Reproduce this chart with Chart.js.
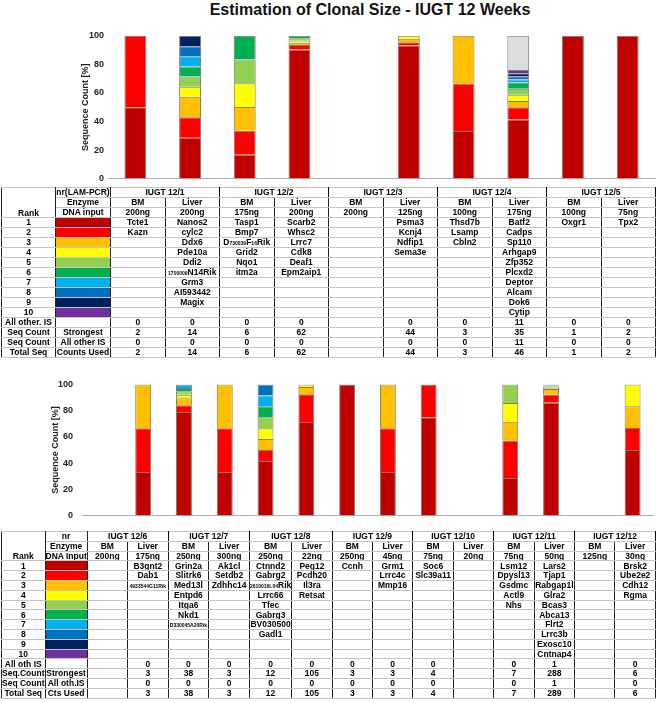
<!DOCTYPE html>
<html>
<head>
<meta charset="utf-8">
<script src="https://cdn.jsdelivr.net/npm/chart.js@4.4.0/dist/chart.umd.min.js"></script>
<style>
body { margin: 0; background: #fff; font-family: "Liberation Sans", Arial, sans-serif; }
#wrap { position: relative; width: 656px; height: 702px; overflow: hidden; }
#title { position: absolute; left: 0; top: 1px; width: 740px; text-align: center; font-size: 16px; font-weight: bold; color: #111; }
canvas { position: absolute; left: 0; }
table { position: absolute; left: 1px; border-collapse: collapse; table-layout: fixed; font-weight: bold; color: #000; border: 1px solid #000; }
td { padding: 0; text-align: center; white-space: nowrap; overflow: hidden; line-height: 1;
     border-top: 1px solid #c4c4c4; border-bottom: 1px solid #c4c4c4; border-left: 1px solid #222; border-right: 1px solid #222; }
td.rk { border-right: 1px solid #000; }
small { font-size: 5px; }
#t1 { top: 187px; font-size: 8.5px; }
#t2 { top: 531px; font-size: 8.5px; }
</style>
</head>
<body>
<div id="wrap">
  <div id="title">Estimation of Clonal Size - IUGT 12 Weeks</div>
  <canvas id="chartTop" width="656" height="163" style="top:25px"></canvas>
  <table id="t1"></table>
  <canvas id="chartBottom" width="656" height="160" style="top:370px"></canvas>
  <table id="t2"></table>
</div>
<script>
// colours of rank 1..10 and of "all other IS"
const rankColors = ['#C00000', '#FF0000', '#FFC000', '#FFFF00', '#92D050', '#00B050', '#00B0F0', '#0070C0', '#002060', '#7030A0'];
const otherColor = '#DCDCDC';

// ---- upper panel: IUGT 12/1 .. 12/5 (share of sequence count, %)
const topMice = ['IUGT 12/1', 'IUGT 12/2', 'IUGT 12/3', 'IUGT 12/4', 'IUGT 12/5'];
const topSamples = ['12/1 BM', '12/1 Liver', '12/2 BM', '12/2 Liver', '12/3 BM', '12/3 Liver', '12/4 BM', '12/4 Liver', '12/5 BM', '12/5 Liver'];
const topR1 = [50, 28.6, 16.7, 90.3, 0, 93.2, 33.3, 41.3, 100, 100];
const topR2 = [50, 14.3, 16.7, 3.2, 0, 2.3, 33.3, 8.7, 0, 0];
const topR3 = [0, 14.3, 16.7, 1.6, 0, 2.3, 33.4, 4.3, 0, 0];
const topR4 = [0, 7.1, 16.7, 1.6, 0, 2.2, 0, 4.3, 0, 0];
const topR5 = [0, 7.1, 16.6, 1.6, 0, 0, 0, 4.3, 0, 0];
const topR6 = [0, 7.1, 16.6, 1.6, 0, 0, 0, 4.3, 0, 0];
const topR7 = [0, 7.1, 0, 0, 0, 0, 0, 2.2, 0, 0];
const topR8 = [0, 7.1, 0, 0, 0, 0, 0, 2.2, 0, 0];
const topR9 = [0, 7.2, 0, 0, 0, 0, 0, 2.2, 0, 0];
const topR10 = [0, 0, 0, 0, 0, 0, 0, 2.2, 0, 0];
const topOther = [0, 0, 0, 0, 0, 0, 0, 23.9, 0, 0];
const topDna = ['200ng', '200ng', '175ng', '200ng', '200ng', '125ng', '100ng', '175ng', '100ng', '75ng'];
const topGenes = [
  ['Tcte1', 'Kazn'],
  ['Nanos2', 'cylc2', 'Ddx6', 'Pde10a', 'Ddi2', '<small>1700009</small>N14Rik', 'Grm3', 'AI593442', 'Magix'],
  ['Tasp1', 'Bmp7', 'D<small>730039</small>F<small>16</small>Rik', 'Grid2', 'Nqo1', 'itm2a'],
  ['Scarb2', 'Whsc2', 'Lrrc7', 'Cdk8', 'Deaf1', 'Epm2aip1'],
  [],
  ['Psma3', 'Kcnj4', 'Ndfip1', 'Sema3e'],
  ['Thsd7b', 'Lsamp', 'Cbln2'],
  ['Batf2', 'Cadps', 'Sp110', 'Arhgap9', 'Zfp352', 'Plcxd2', 'Deptor', 'Alcam', 'Dok6', 'Cytip'],
  ['Oxgr1'],
  ['Tpx2']
];
const topAllOther = ['0', '0', '0', '0', '', '0', '0', '11', '0', '0'];
const topStrongest = ['2', '14', '6', '62', '', '44', '3', '35', '1', '2'];
const topOtherCount = ['0', '0', '0', '0', '', '0', '0', '11', '0', '0'];
const topTotal = ['2', '14', '6', '62', '', '44', '3', '46', '1', '2'];

// ---- lower panel: IUGT 12/6 .. 12/12
const botMice = ['IUGT 12/6', 'IUGT 12/7', 'IUGT 12/8', 'IUGT 12/9', 'IUGT 12/10', 'IUGT 12/11', 'IUGT 12/12'];
const botSamples = ['12/6 BM', '12/6 Liver', '12/7 BM', '12/7 Liver', '12/8 BM', '12/8 Liver', '12/9 BM', '12/9 Liver', '12/10 BM', '12/10 Liver', '12/11 BM', '12/11 Liver', '12/12 BM', '12/12 Liver'];
const botR1 = [0, 33.3, 78.9, 33.3, 41.7, 71.4, 100, 33.3, 75, 0, 28.6, 86.1, 0, 50];
const botR2 = [0, 33.3, 5.3, 33.3, 8.3, 21.0, 0, 33.3, 25, 0, 28.6, 6.2, 0, 16.7];
const botR3 = [0, 33.4, 5.3, 33.4, 8.3, 5.7, 0, 33.4, 0, 0, 14.3, 4.2, 0, 16.7];
const botR4 = [0, 0, 2.6, 0, 8.3, 1.9, 0, 0, 0, 0, 14.3, 0.7, 0, 16.6];
const botR5 = [0, 0, 2.6, 0, 8.4, 0, 0, 0, 0, 0, 14.2, 0.7, 0, 0];
const botR6 = [0, 0, 2.6, 0, 8.3, 0, 0, 0, 0, 0, 0, 0.35, 0, 0];
const botR7 = [0, 0, 2.7, 0, 8.3, 0, 0, 0, 0, 0, 0, 0.35, 0, 0];
const botR8 = [0, 0, 0, 0, 8.4, 0, 0, 0, 0, 0, 0, 0.35, 0, 0];
const botR9 = [0, 0, 0, 0, 0, 0, 0, 0, 0, 0, 0, 0.35, 0, 0];
const botR10 = [0, 0, 0, 0, 0, 0, 0, 0, 0, 0, 0, 0.35, 0, 0];
const botOther = [0, 0, 0, 0, 0, 0, 0, 0, 0, 0, 0, 0.35, 0, 0];
const botDna = ['200ng', '175ng', '250ng', '300ng', '250ng', '22ng', '250ng', '45ng', '75ng', '20ng', '75ng', '50ng', '125ng', '30ng'];
const botGenes = [
  [],
  ['B3gnt2', 'Dab1', '<small>4933544G11Rik</small>'],
  ['Grin2a', 'Slitrk6', 'Med13l', 'Entpd6', 'Itga6', 'Nkd1', '<small>D330045A20Rik</small>'],
  ['Ak1cl', 'Setdb2', 'Zdhhc14'],
  ['Ctnnd2', 'Gabrg2', '<small>2610016L04</small>Rik', 'Lrrc66', 'Tfec', 'Gabrg3', 'BV030500', 'Gadl1'],
  ['Peg12', 'Pcdh20', 'Il3ra', 'Retsat'],
  ['Ccnh'],
  ['Grm1', 'Lrrc4c', 'Mmp16'],
  ['Soc6', 'Slc39a11'],
  [],
  ['Lsm12', 'Dpysl13', 'Gsdmc', 'Actl9', 'Nhs'],
  ['Lars2', 'Tjap1', 'Rabgap1l', 'Glra2', 'Bcas3', 'Abca13', 'Flrt2', 'Lrrc3b', 'Exosc10', 'Cntnap4'],
  [],
  ['Brsk2', 'Ube2e2', 'Cdh12', 'Rgma']
];
const botAllOther = ['', '0', '0', '0', '0', '0', '0', '0', '0', '', '0', '1', '', '0'];
const botStrongest = ['', '3', '38', '3', '12', '105', '3', '3', '4', '', '7', '288', '', '6'];
const botOtherCount = ['', '0', '0', '0', '0', '0', '0', '0', '0', '', '0', '1', '', '0'];
const botTotal = ['', '3', '38', '3', '12', '105', '3', '3', '4', '', '7', '289', '', '6'];

function makeChart(id, labels, ranks, other, opt) {
  var datasets = ranks.map(function (vals, i) {
    return {
      label: 'Rank ' + (i + 1),
      data: vals.map(v => v || null),
      backgroundColor: rankColors[i],
      borderColor: 'rgba(45,35,0,0.6)',
      borderWidth: 1
    };
  });
  datasets.push({
    label: 'All other IS',
    data: other.map(v => v || null),
    backgroundColor: otherColor,
    borderColor: '#777',
    borderWidth: 1
  });
  return new Chart(document.getElementById(id).getContext('2d'), {
    type: 'bar',
    data: { labels: labels, datasets: datasets },
    options: {
      responsive: false,
      animation: false,
      devicePixelRatio: 1,
      barPercentage: opt.bar,
      categoryPercentage: 1,
      layout: { padding: opt.pad },
      plugins: { legend: { display: false }, tooltip: { enabled: false } },
      scales: {
        x: {
          stacked: true,
          grid: { display: false, drawTicks: false },
          border: { display: true, color: '#b0b0b0', width: 1 },
          ticks: { display: false },
          afterFit: function (s) { s.height = 0; }
        },
        y: {
          stacked: true,
          min: 0,
          max: 100,
          grid: { display: false, drawTicks: false },
          border: { display: false },
          ticks: { stepSize: 20, padding: opt.tickPad, color: '#222', font: { family: 'Liberation Sans Narrow, Liberation Sans, Arial', size: 9, weight: 'bold' } },
          title: { display: true, text: 'Sequence Count [%]', color: '#222', padding: { top: 0, bottom: 0 }, font: { family: 'Liberation Sans, Arial', size: 9, weight: 'bold' } },
          afterFit: function (s) { s.width = opt.axisWidth; }
        }
      }
    }
  });
}

makeChart('chartTop', topSamples, [topR1, topR2, topR3, topR4, topR5, topR6, topR7, topR8, topR9, topR10], topOther,
  { bar: 0.4, pad: { left: 80, right: 1, top: 10.7, bottom: 1.3 }, axisWidth: 28, tickPad: 4 });
makeChart('chartBottom', botSamples, [botR1, botR2, botR3, botR4, botR5, botR6, botR7, botR8, botR9, botR10], botOther,
  { bar: 0.39, pad: { left: 50, right: 3, top: 11, bottom: 4.3 }, axisWidth: 32, tickPad: 9 });

// tables under the charts
function buildTable(id, mice, dna, genes, allOther, strongest, otherCount, total, w, rowH, labels) {
  var n = dna.length;
  var html = '<colgroup><col style="width:' + w[0] + 'px"><col style="width:' + w[1] + 'px">';
  for (var i = 0; i < n; i++) html += '<col style="width:' + w[2] + 'px">';
  html += '</colgroup>';
  var tr = '<tr style="height:' + rowH + 'px">';

  html += tr + '<td rowspan="3" style="vertical-align:bottom;border-bottom-color:#c4c4c4">Rank</td><td>' + labels.nr + '</td>';
  mice.forEach(m => { html += '<td colspan="2" style="border-left-color:#000;border-right-color:#000">' + m + '</td>'; });
  html += '</tr>' + tr + '<td>Enzyme</td>';
  mice.forEach(() => { html += '<td>BM</td><td>Liver</td>'; });
  html += '</tr>' + tr + '<td>' + labels.dna + '</td>';
  dna.forEach(d => { html += '<td>' + d + '</td>'; });
  html += '</tr>';

  for (var r = 0; r < 10; r++) {
    html += tr + '<td>' + (r + 1) + '</td><td style="background:' + rankColors[r] + '"></td>';
    genes.forEach(g => { html += '<td>' + (g[r] || '') + '</td>'; });
    html += '</tr>';
  }
  var rows = [
    [labels.all, '', allOther],
    [labels.seq1, 'Strongest', strongest],
    [labels.seq2, labels.allIs, otherCount],
    [labels.tot, labels.used, total]
  ];
  rows.forEach(row => {
    html += tr + '<td>' + row[0] + '</td><td>' + row[1] + '</td>';
    row[2].forEach(v => { html += '<td>' + v + '</td>'; });
    html += '</tr>';
  });
  document.getElementById(id).innerHTML = html;
}

buildTable('t1', topMice, topDna, topGenes, topAllOther, topStrongest, topOtherCount, topTotal, [54, 55, 54.5], 10,
  { nr: 'nr(LAM-PCR)', dna: 'DNA input', all: 'All other. IS', seq1: 'Seq Count', seq2: 'Seq Count', allIs: 'All other IS', tot: 'Total Seq', used: 'Counts Used' });
buildTable('t2', botMice, botDna, botGenes, botAllOther, botStrongest, botOtherCount, botTotal, [41, 41, 40.8], 9.8,
  { nr: 'nr', dna: 'DNA Input', all: 'All oth IS', seq1: 'Seq.Count', seq2: 'Seq Count', allIs: 'All oth.IS', tot: 'Total Seq', used: 'Cts Used' });
</script>
</body>
</html>
